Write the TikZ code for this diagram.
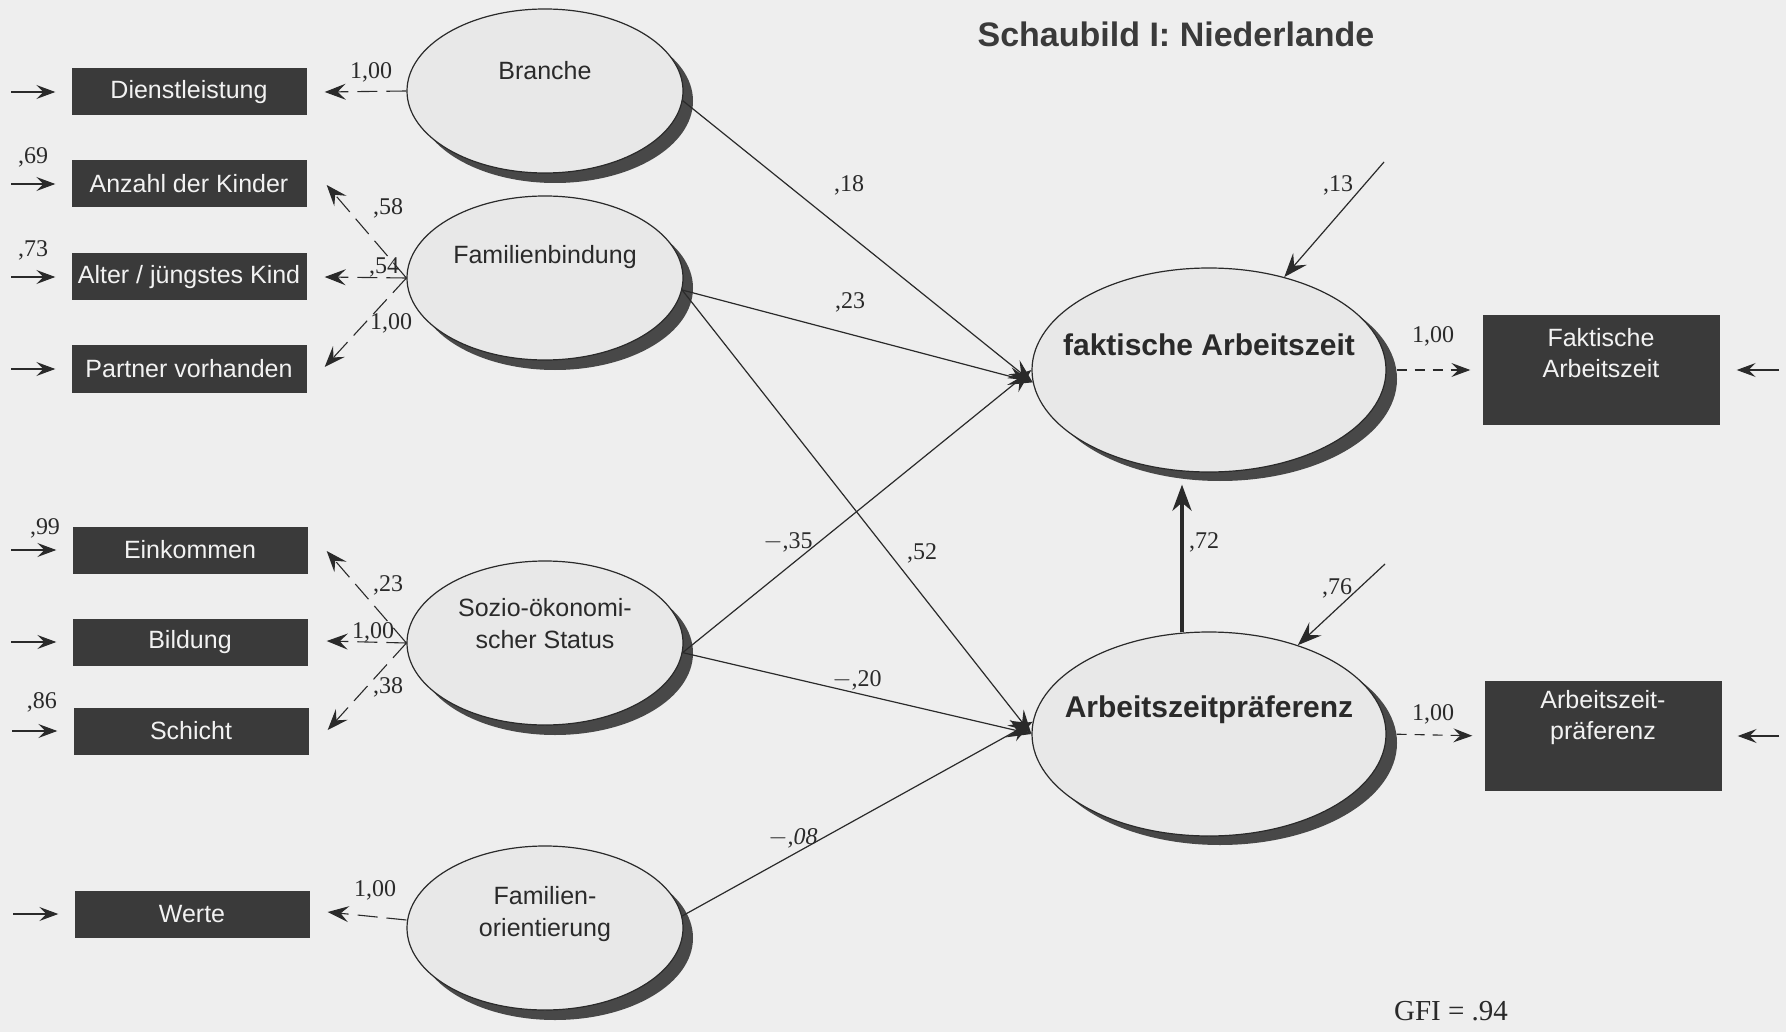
\documentclass[tikz,border=0pt]{standalone}
\usepackage{fontspec}
\setmainfont{Liberation Serif}
\newfontfamily\sansf{Liberation Sans}
\usetikzlibrary{arrows.meta,shapes.geometric,shadows,calc}
\definecolor{bg}{HTML}{EEEEEE}
\definecolor{boxc}{HTML}{3A3A3A}
\definecolor{boxt}{HTML}{F2F2F2}
\definecolor{ellf}{HTML}{E8E8E8}
\definecolor{ink}{HTML}{2A2A2A}
\definecolor{shad}{HTML}{484848}
\begin{document}
\begin{tikzpicture}[x=1pt,y=-1pt,
  obs/.style={rectangle, fill=boxc, text=boxt, font=\sansf\fontsize{25}{29}\selectfont,
    minimum width=235pt, minimum height=47pt, inner sep=0pt},
  obsbig/.style={rectangle, fill=boxc, minimum width=237pt, minimum height=110pt, inner sep=0pt},
  boxtxt/.style={text=boxt, font=\sansf\fontsize{25}{31}\selectfont, align=center},
  lat/.style={ellipse, draw=ink, line width=1.2pt, fill=ellf, minimum width=276pt,
    minimum height=164pt, inner sep=0pt,
    drop shadow={shadow xshift=10pt, shadow yshift=-10pt, fill=shad, opacity=1}},
  latbig/.style={ellipse, draw=ink, line width=1.2pt, fill=ellf, minimum width=354pt,
    minimum height=204pt, inner sep=0pt,
    drop shadow={shadow xshift=11pt, shadow yshift=-9pt, fill=shad, opacity=1}},
  lattxt/.style={text=ink, font=\sansf\fontsize{25}{32}\selectfont, align=center},
  latbold/.style={text=ink, font=\sansf\bfseries\fontsize{30}{36}\selectfont},
  coef/.style={text=ink, font=\fontsize{24}{28}\selectfont, inner sep=0pt},
  resarrow/.style={draw=ink, line width=1.1pt, -{Stealth[length=19pt,width=14pt,inset=7pt]}},
  loadarrow/.style={draw=ink, line width=1.1pt, dash pattern=on 20pt off 9pt,
    -{Stealth[length=21pt,width=16pt,inset=8pt]}},
  dasharrow/.style={draw=ink, line width=1.1pt, dash pattern=on 10pt off 8pt,
    -{Stealth[length=19pt,width=14pt,inset=7pt]}},
  patharrow/.style={draw=ink, line width=1.2pt, -{Stealth[length=24pt,width=18pt,inset=9pt]}},
  strongarrow/.style={draw=ink, line width=4pt, -{Stealth[length=26pt,width=19pt,inset=8pt]}}
]
\path[use as bounding box, fill=bg] (0,0) rectangle (1786,1032);

% title
\node[text=boxc, font=\sansf\bfseries\fontsize{34}{40}\selectfont] (title) at (1176,34) {Schaubild I: Niederlande};

% observed indicators (left)
\node[obs] (d1) at (189,92) {Dienstleistung};
\node[obs] (d2) at (189,184) {Anzahl der Kinder};
\node[obs] (d3) at (189,277) {Alter / jüngstes Kind};
\node[obs] (d4) at (189,369) {Partner vorhanden};
\node[obs] (d5) at (190,550) {Einkommen};
\node[obs] (d6) at (190,642) {Bildung};
\node[obs] (d7) at (191,731) {Schicht};
\node[obs] (d8) at (192,914) {Werte};

% latent variables (left)
\node[lat, label={[lattxt, yshift=20pt]center:Branche}] (br) at (545,91) {};
\node[lat, label={[lattxt, yshift=21pt]center:Familienbindung}] (fb) at (545,278) {};
\node[lat, label={[lattxt, yshift=19pt]center:{Sozio-ökonomi-\\scher Status}}] (so) at (545,643) {};
\node[lat, label={[lattxt, yshift=14pt]center:{Familien-\\orientierung}}] (fo) at (545,928) {};

% latent variables (right)
\node[latbig, label={[latbold, yshift=25pt]center:faktische Arbeitszeit}] (fa) at (1209,370) {};
\node[latbig, label={[latbold, yshift=24pt]center:Arbeitszeitpräferenz}] (azp) at (1209,734) {};

% observed indicators (right)
\node[obsbig, label={[boxtxt, yshift=17pt]center:{Faktische\\Arbeitszeit}}] (fab) at (1601,370) {};
\node[obsbig, label={[boxtxt, yshift=18pt]center:{Arbeitszeit-\\präferenz}}] (azb) at (1603,736) {};

% free ends of residual arrows
\coordinate (e1) at (11,92);
\coordinate (e2) at (11,184);
\coordinate (e3) at (11,277);
\coordinate (e4) at (11,369);
\coordinate (e5) at (11,550);
\coordinate (e6) at (11,642);
\coordinate (e7) at (12,731);
\coordinate (e8) at (13,914);
\coordinate (ef) at (1779,370);
\coordinate (ea) at (1779,736);
\coordinate (r13) at (1384,162);
\coordinate (r76) at (1385,564);

% residual arrows into the left indicators
\foreach \i in {1,...,8}{\draw[resarrow, shorten >=16pt] (e\i) -- (d\i);}
% residual arrows into the right indicators
\draw[resarrow, shorten >=17pt] (ef) -- (fab);
\draw[resarrow, shorten >=16pt] (ea) -- (azb);

% loadings (left)
\draw[loadarrow] (br.west) -- ($(d1.east)+(18,0)$);
\draw[loadarrow] (fb.west) -- ($(d2.east)+(20,1)$);
\draw[loadarrow] (fb.west) -- ($(d3.east)+(18,0)$);
\draw[loadarrow] (fb.west) -- ($(d4.east)+(18,-2)$);
\draw[loadarrow] (so.west) -- ($(d5.east)+(19,1)$);
\draw[loadarrow] (so.west) -- ($(d6.east)+(19,-1)$);
\draw[loadarrow] (so.west) -- ($(d7.east)+(19,-1)$);
\draw[loadarrow] ($(fo.west)+(0,-8)$) -- ($(d8.east)+(18,-2)$);

% loadings (right)
\draw[dasharrow, shorten <=10pt, shorten >=12pt] (fa.east) -- (fab.west);
\draw[dasharrow, shorten <=10pt, shorten >=12pt] (azp.east) -- (azb.west);

% structural paths
\draw[patharrow] (br.-4) -- (fa.184);
\draw[patharrow] (fb.-5) -- (fa.184);
\draw[patharrow] (so.-4) -- (fa.180);
\draw[patharrow] (fb.-5) -- (azp.180);
\draw[patharrow] (so.-4) -- (azp.180);
\draw[patharrow] (fo.5) -- (azp.176);
\draw[strongarrow] ($(azp.north)+(-27,1)$) -- ($(fa.south)+(-27,12)$);

% disturbances of the right latent variables
\draw[patharrow] (r13) -- (fa.51);
\draw[patharrow] (r76) -- (azp.45);

% coefficients
\node[coef] (c69) at (33,157) {,69};
\node[coef] (c73) at (33,250) {,73};
\node[coef] (c99) at (45,528) {,99};
\node[coef] (c86) at (42,702) {,86};

\node[coef] (l1) at (371,72) {1,00};
\node[coef] (l2) at (388,208) {,58};
\node[coef] (l3) at (384,267) {,54};
\node[coef] (l4) at (391,323) {1,00};
\node[coef] (l5) at (388,585) {,23};
\node[coef] (l6) at (373,632) {1,00};
\node[coef] (l7) at (388,687) {,38};
\node[coef] (l8) at (375,890) {1,00};

\node[coef] (p18) at (849,185) {,18};
\node[coef] (p23) at (850,302) {,23};
\node[coef] (p52) at (922,553) {,52};
\node[coef] (p35) at (788,542) {$-$,35};
\node[coef] (p20) at (857,680) {$-$,20};
\node[coef] (p08) at (793,838) {\itshape $-$,08};
\node[coef] (p72) at (1204,542) {,72};
\node[coef] (p13) at (1338,185) {,13};
\node[coef] (p76) at (1337,588) {,76};
\node[coef] (q1) at (1433,336) {1,00};
\node[coef] (q2) at (1433,714) {1,00};

\node[text=ink, font=\fontsize{29}{34}\selectfont] (gfi) at (1451,1011) {GFI = .94};
\end{tikzpicture}
\end{document}
